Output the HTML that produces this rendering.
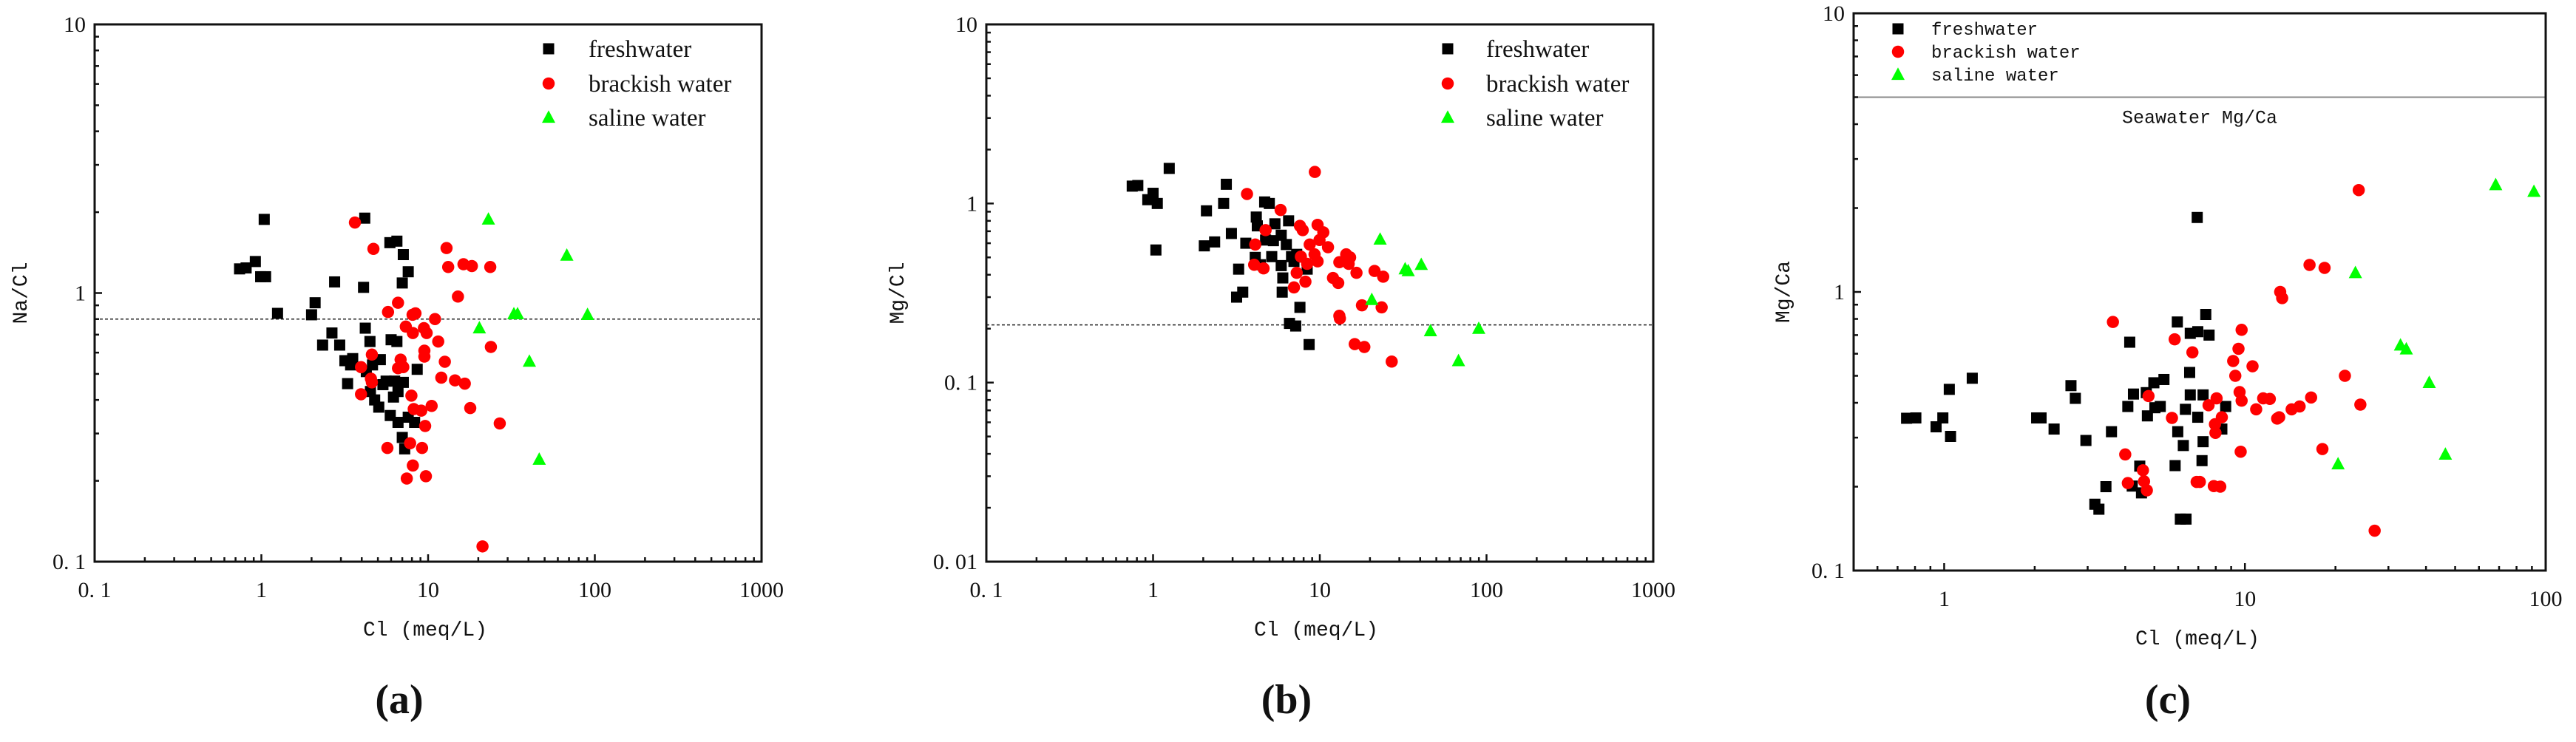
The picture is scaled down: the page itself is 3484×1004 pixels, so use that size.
<!DOCTYPE html>
<html><head><meta charset="utf-8">
<style>
html,body{margin:0;padding:0;background:#fff;}
svg{display:block;}
.tk{font-family:"Liberation Serif",serif;font-size:30px;fill:#111;}
.mono{font-family:"Liberation Mono",monospace;fill:#111;}
.leg{font-family:"Liberation Serif",serif;font-size:33px;fill:#111;}
</style></head>
<body>
<svg id="chart" width="3484" height="1004" viewBox="0 0 3484 1004" xmlns="http://www.w3.org/2000/svg"></svg>
<script>
// ---- Panel (a): Na/Cl vs Cl ----
const aFreshX=[0.74,0.81,0.92,1.04,0.99,1.06,1.25,2.0,2.1,2.75,4.1,4.17,4.2,4.48,5.9,6.5,7.1,7.6,7.0,6.0,6.5,2.65,2.33,2.95,3.17,3.53,3.43,3.29,4.64,5.17,4.26,8.6,4.51,4.78,5.06,5.93,6.6,7.6,8.3,7.0,7.24,5.6,6.3,7.1,6.6,6.2,5.36];
const aFreshY=[1.23,1.24,1.31,1.88,1.15,1.15,0.84,0.83,0.92,1.10,1.05,1.90,0.74,0.66,1.54,1.56,1.39,1.20,1.09,0.67,0.66,0.71,0.64,0.64,0.56,0.57,0.54,0.46,0.54,0.565,0.51,0.52,0.43,0.40,0.376,0.35,0.33,0.345,0.33,0.29,0.263,0.47,0.47,0.465,0.43,0.41,0.456];
const aBrackX=[3.64,4.7,6.6,5.75,8.07,8.4,7.35,9.44,8.1,9.8,11.0,11.5,9.5,9.5,6.84,7.1,4.6,3.96,4.54,3.96,7.94,12.6,12.0,14.5,16.6,10.5,8.2,9.1,17.9,9.6,26.9,5.7,7.8,9.2,8.1,7.45,9.7,21.2,12.9,13.2,16.3,18.3,23.6,15.1,23.8,6.6,4.6];
const aBrackY=[1.83,1.46,0.92,0.85,0.83,0.84,0.75,0.74,0.71,0.71,0.80,0.66,0.61,0.58,0.565,0.53,0.59,0.53,0.48,0.42,0.415,0.555,0.484,0.473,0.46,0.38,0.37,0.365,0.373,0.32,0.327,0.265,0.276,0.265,0.228,0.204,0.208,0.114,1.47,1.25,1.28,1.26,1.25,0.97,0.63,0.525,0.465];
const aSalX=[23.0,67.9,32.7,34.4,90.4,20.3,40.5,46.4];
const aSalY=[1.88,1.38,0.835,0.835,0.83,0.74,0.556,0.24];
const aRefLine=[0.8];

// ---- Panel (b): Mg/Cl vs Cl ----
const bFreshX=[0.75,0.81,1.0,0.93,1.06,1.25,1.04,2.09,2.03,2.34,2.65,2.75,2.95,3.6,3.17,3.45,3.26,4.16,4.22,4.1,4.4,4.67,4.98,5.38,6.5,4.73,5.27,5.87,6.3,6.77,5.87,7.0,6.0,5.95,7.6,6.58,7.17,8.63,8.4,7.27,5.15];
const bFreshY=[1.25,1.26,1.14,1.05,1.0,1.57,0.55,0.91,0.58,0.61,1.0,1.28,0.68,0.60,0.30,0.32,0.43,0.84,0.75,0.50,0.455,1.02,1.0,0.77,0.80,0.625,0.62,0.665,0.59,0.505,0.45,0.475,0.384,0.32,0.263,0.214,0.207,0.163,0.43,0.52,0.505];
const bBrackX=[3.66,5.82,9.34,4.73,4.1,4.04,4.6,7.6,7.9,9.7,10.5,11.2,9.96,9.3,8.4,8.7,7.7,7.27,8.2,7.0,12.0,12.9,13.1,14.4,15.2,14.9,16.6,21.3,24.0,17.9,23.5,13.1,13.2,16.2,18.5,27.0,9.7];
const bBrackY=[1.13,0.92,1.50,0.71,0.59,0.455,0.434,0.75,0.71,0.76,0.69,0.57,0.625,0.52,0.46,0.59,0.505,0.41,0.366,0.34,0.384,0.36,0.47,0.52,0.50,0.46,0.41,0.42,0.39,0.27,0.263,0.236,0.228,0.164,0.158,0.131,0.475];
const bSalX=[23.0,32.5,33.9,40.6,20.5,46.1,89.8,67.9];
const bSalY=[0.63,0.43,0.42,0.455,0.29,0.194,0.20,0.132];
const bRefLine=[0.21];

// ---- Panel (c): Mg/Ca vs Cl ----
const cFreshX=[0.75,0.805,0.94,0.99,1.05,1.04,1.24,2.03,2.1,2.32,2.64,2.73,2.96,3.17,3.27,3.45,3.6,4.08,4.14,4.26,4.22,4.47,4.53,4.74,4.7,4.98,5.38,5.02,5.23,5.96,6.58,6.97,7.6,7.41,6.94,6.55,6.58,7.26,5.86,6.24,5.98,6.34,7.2,7.26,6.1,6.37,6.97,8.63,8.38];
const cFreshY=[0.352,0.353,0.328,0.353,0.303,0.447,0.49,0.353,0.353,0.322,0.461,0.415,0.293,0.173,0.166,0.20,0.315,0.388,0.66,0.43,0.201,0.237,0.19,0.359,0.435,0.472,0.485,0.384,0.388,0.78,0.71,0.72,0.70,0.83,1.85,0.514,0.427,0.427,0.238,0.281,0.315,0.379,0.248,0.29,0.153,0.153,0.355,0.388,0.322];
const cBrackX=[3.64,5.84,6.69,4.0,4.08,4.58,4.62,4.72,4.78,5.72,6.91,7.08,7.88,8.28,7.57,8.05,7.95,8.38,7.98,9.75,9.52,9.14,9.29,9.6,9.75,10.6,10.9,11.5,12.1,12.8,13.0,13.1,13.3,14.3,15.2,16.6,16.4,18.4,9.68,18.1,21.5,24.2,23.9,27.0];
const cBrackY=[0.78,0.676,0.607,0.261,0.206,0.229,0.209,0.194,0.423,0.353,0.208,0.208,0.201,0.20,0.392,0.415,0.335,0.355,0.312,0.731,0.625,0.565,0.50,0.437,0.407,0.541,0.379,0.415,0.413,0.351,0.355,1.0,0.95,0.379,0.388,0.418,1.25,1.22,0.267,0.273,0.50,0.394,2.32,0.139];
const cSalX=[23.3,32.9,34.4,41.0,20.4,46.4,68.2,91.4];
const cSalY=[1.17,0.643,0.623,0.472,0.241,0.261,2.42,2.29];
const cRefLine=[5.0];

const NS="http://www.w3.org/2000/svg";
const svg=document.getElementById('chart');
function mk(tag,attrs,parent){const e=document.createElementNS(NS,tag);for(const k in attrs)e.setAttribute(k,attrs[k]);(parent||svg).appendChild(e);return e;}
function logScale(d0,d1,r0,r1){const a=Math.log10(d0),b=Math.log10(d1);return v=>r0+(Math.log10(v)-a)/(b-a)*(r1-r0);}
function fmtTick(v){return v<1?("0. "+String(v).slice(2)):String(v);}

function drawPanel(P){
  const g=mk('g',{});
  
  
  const sx=logScale(P.xd[0],P.xd[1],P.L,P.R), sy=logScale(P.yd[0],P.yd[1],P.B,P.T);
  // reference line
  const ry=sy(P.ref[0]);
  const rl=mk('line',{x1:P.L,x2:P.R,y1:ry,y2:ry,stroke:P.refSolid?'#888':'#222','stroke-width':P.refSolid?2:1.5,'stroke-dasharray':P.refSolid?'none':'4,3'},g);
  
  
  if(P.refLabel){const t=mk('text',{x:P.refLabelX,y:ry+35,'text-anchor':'middle',class:'mono','font-size':25},g);t.textContent=P.refLabel;
    
    }
  // ticks
  const tg=mk('g',{stroke:'#111','stroke-width':2.5},g);
  for(let e=Math.floor(Math.log10(P.xd[0]));e<Math.log10(P.xd[1]);e++){for(let m=1;m<10;m++){const v=m*Math.pow(10,e);if(v<P.xd[0]-1e-9||v>P.xd[1]+1e-9)continue;const x=sx(v);const len=m===1?10:6;mk('line',{x1:x,x2:x,y1:P.B,y2:P.B-len},tg);}}
  for(let e=Math.floor(Math.log10(P.yd[0]));e<Math.log10(P.yd[1]);e++){for(let m=1;m<10;m++){const v=m*Math.pow(10,e);if(v<P.yd[0]-1e-9||v>P.yd[1]+1e-9)continue;const y=sy(v);const len=m===1?10:6;mk('line',{x1:P.L,x2:P.L+len,y1:y,y2:y},tg);}}
  // frame
  const fr=mk('rect',{x:P.L,y:P.T,width:P.R-P.L,height:P.B-P.T,fill:'none',stroke:'#111','stroke-width':3},g);
  
  
  // tick labels
  P.xt.forEach(v=>{const t=mk('text',{x:sx(v),y:P.B+48,'text-anchor':'middle',class:'tk'},g);t.textContent=fmtTick(v);
    
    });
  P.yt.forEach(v=>{const t=mk('text',{x:P.L-12,y:sy(v)+10,'text-anchor':'end',class:'tk'},g);t.textContent=fmtTick(v);
    
    });
  // titles
  const xt=mk('text',{x:P.xtx,y:P.B+100,'text-anchor':'middle',class:'mono','font-size':28},g);xt.textContent='Cl (meq/L)';
  
  
  const yc=(P.T+P.B)/2;
  const yt=mk('text',{x:P.ytx,y:yc,'text-anchor':'middle',class:'mono','font-size':28,transform:`rotate(-90 ${P.ytx} ${yc})`},g);yt.textContent=P.ytitle;
  
  
  const pl=mk('text',{x:P.plx,y:P.ply,'text-anchor':'middle','font-family':'Liberation Serif, serif','font-size':56,'font-weight':'bold',fill:'#111'},g);pl.textContent=P.panelLabel;
  
  
  // series
  const sz=P.msize;
  function sq(x,y,parent){return mk('rect',{x:x-sz/2,y:y-sz/2,width:sz,height:sz,fill:'#000'},parent);}
  function ci(x,y,parent){return mk('circle',{cx:x,cy:y,r:sz*0.55,fill:'#f00'},parent);}
  function tr(x,y,parent){const h=sz*1.05,w=sz*1.2;return mk('polygon',{points:`${x},${y-h*0.62} ${x-w/2},${y+h*0.45} ${x+w/2},${y+h*0.45}`,fill:'#0f0'},parent);}
  const series=[[P.fx,P.fy,sq,'freshwater-points'],[P.bx,P.by,ci,'brackish-points'],[P.sx_,P.sy_,tr,'saline-points']];
  series.forEach(([X,Y,fn,nm])=>{const sg=mk('g',{},g);
    X.forEach((v,i)=>{const m=fn(sx(v),sy(Y[i]),sg);
      
      });});
  // legend
  const lg=mk('g',{},g);
  
  
  const labs=['freshwater','brackish water','saline water'],fns=[sq,ci,tr];
  labs.forEach((lb,i)=>{const y=P.legY[i];fns[i](P.legMX,y,lg);
    const t=mk('text',{x:P.legTX,y:y+P.legFS*0.33,class:P.legMono?'mono':'leg','font-size':P.legFS},lg);t.textContent=lb;
    
    });
}

drawPanel({name:'panel-a',L:128,R:1030,T:33,B:760,xd:[0.1,1000],yd:[0.1,10],xt:[0.1,1,10,100,1000],yt:[0.1,1,10],
  fx:aFreshX,fy:aFreshY,bx:aBrackX,by:aBrackY,sx_:aSalX,sy_:aSalY,ref:aRefLine,
  ytitle:'Na/Cl',ytx:36,xtx:575,plx:540,ply:965,panelLabel:'(a)',msize:15,
  legMX:742,legTX:796,legY:[66,113,159],legFS:33});
drawPanel({name:'panel-b',L:1334,R:2236,T:33,B:760,xd:[0.1,1000],yd:[0.01,10],xt:[0.1,1,10,100,1000],yt:[0.01,0.1,1,10],
  fx:bFreshX,fy:bFreshY,bx:bBrackX,by:bBrackY,sx_:bSalX,sy_:bSalY,ref:bRefLine,
  ytitle:'Mg/Cl',ytx:1222,xtx:1780,plx:1740,ply:965,panelLabel:'(b)',msize:15,
  legMX:1958,legTX:2010,legY:[66,113,159],legFS:33});
drawPanel({name:'panel-c',L:2507,R:3443,T:18,B:772,xd:[0.5,100],yd:[0.1,10],xt:[1,10,100],yt:[0.1,1,10],
  fx:cFreshX,fy:cFreshY,bx:cBrackX,by:cBrackY,sx_:cSalX,sy_:cSalY,ref:cRefLine,refSolid:true,refLabel:'Seawater Mg/Ca',refLabelX:2975,
  ytitle:'Mg/Ca',ytx:2420,xtx:2972,plx:2932,ply:965,panelLabel:'(c)',msize:15,
  legMX:2567,legTX:2612,legY:[39,70,101],legFS:24,legMono:true});
</script>
</body></html>
